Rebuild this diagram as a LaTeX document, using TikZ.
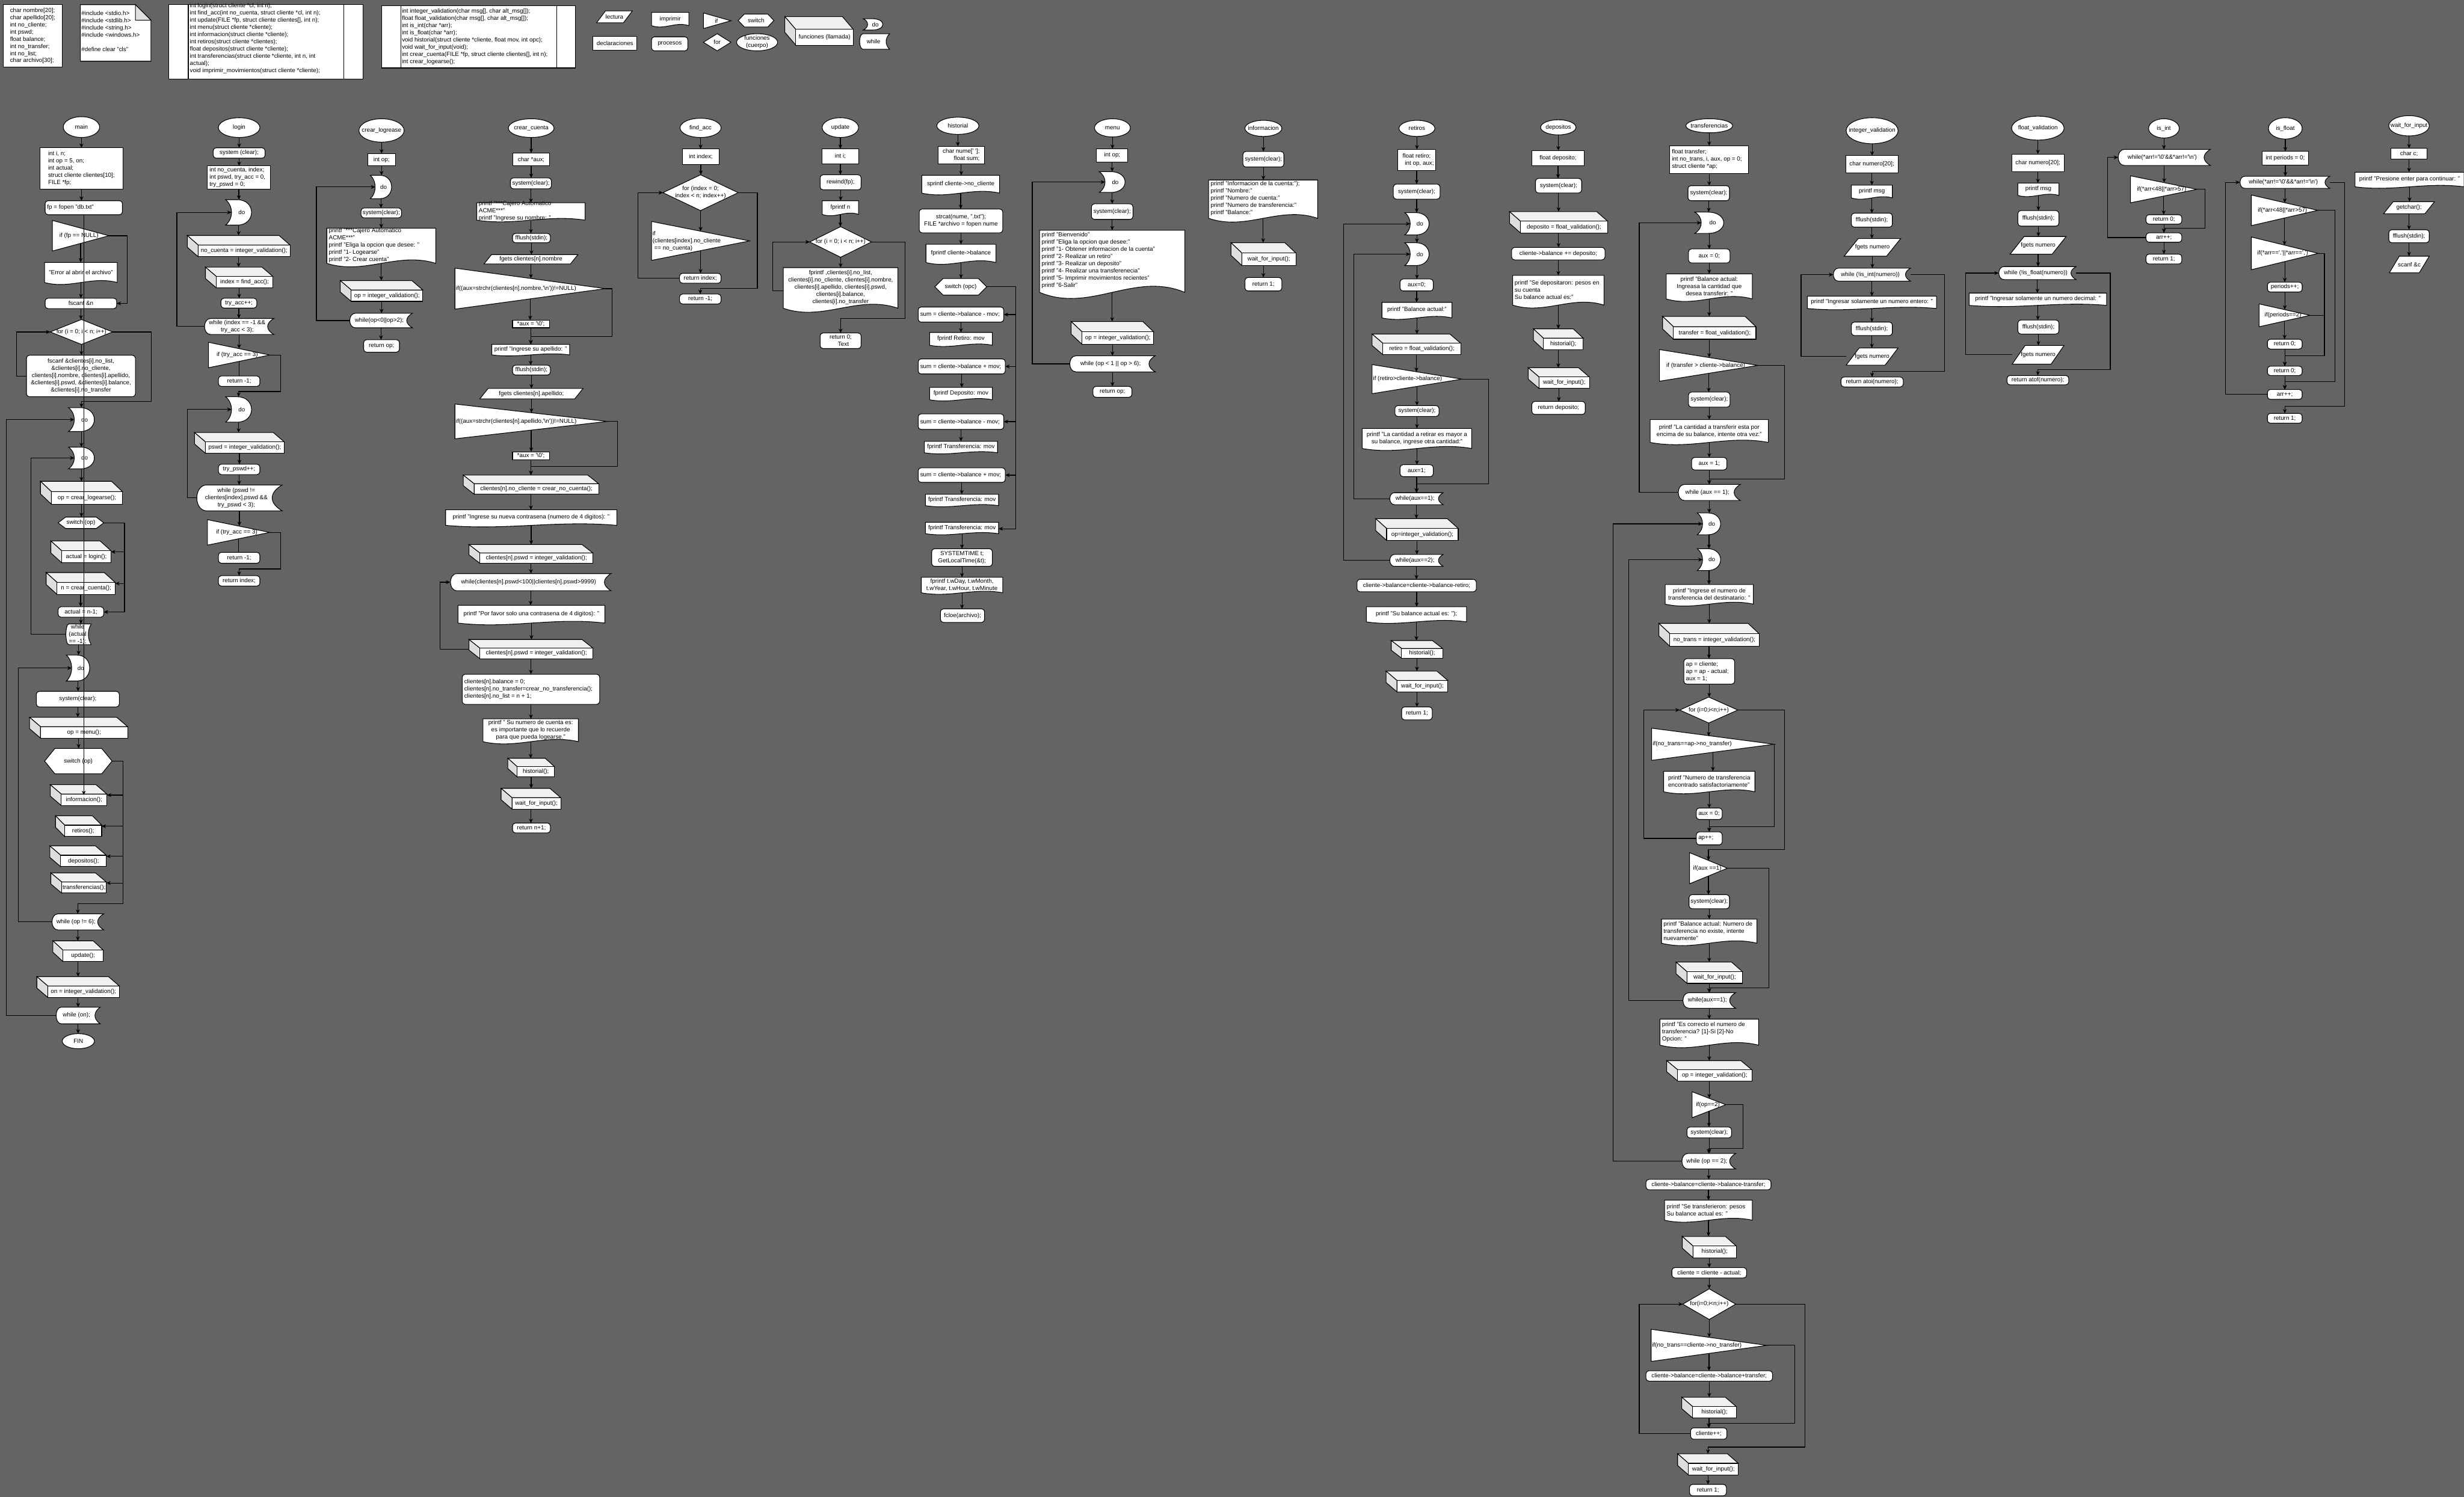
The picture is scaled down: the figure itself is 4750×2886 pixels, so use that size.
\documentclass[tikz,border=0pt]{standalone}
\usepackage{fontspec}
\setmainfont{Liberation Sans}
\usetikzlibrary{arrows.meta}
\definecolor{bgc}{HTML}{646464}
\newcommand\FCfs{\fontsize{3.25pt}{3.95pt}\selectfont}
\newcommand\FCq{\textquotesingle}
\newcommand\FCbs{\textbackslash}
\tikzset{
 shp/.style={draw=black,fill=white,line width=0.35pt},
 txt/.style={font=\FCfs,inner sep=0pt,outer sep=0pt,text=black},
 conn/.style={draw=black,line width=0.4pt,-{Stealth[length=2.4pt,width=2.1pt]}},
 lin/.style={draw=black,line width=0.4pt},
 box/.style={inner sep=0pt,outer sep=0pt,draw=none},
}
\newcommand\FCset[4]{\pgfmathsetmacro\FCl{#1}\pgfmathsetmacro\FCt{#2}\pgfmathsetmacro\FCr{#3}\pgfmathsetmacro\FCb{#4}%
 \pgfmathsetmacro\FCw{\FCr-\FCl}\pgfmathsetmacro\FCh{\FCb-\FCt}\pgfmathsetmacro\FCx{(\FCl+\FCr)/2}\pgfmathsetmacro\FCy{(\FCt+\FCb)/2}}
\newcommand\FCnd[1]{\node[box,minimum width={\FCw*0.01cm},minimum height={\FCh*0.01cm}] (#1) at (\FCx,\FCy) {};%
 \coordinate (#1n) at (\FCx,\FCt);\coordinate (#1s) at (\FCx,\FCb);}
\newcommand\FCtx[6]{%
 \if#1l\node[txt,anchor=west,align=left] (#2t) at ({#3},{#5}) {#6};%
 \else\if#1b\node[txt,align=left] (#2t) at ({#4},{#5}) {#6};%
 \else\node[txt,align=center] (#2t) at ({#4},{#5}) {#6};\fi\fi}
\newcommand\Dcl[7][c]{\FCset{#3}{#4}{#5}{#6}%
 \draw[shp] (\FCl,\FCt) rectangle (\FCr,\FCb);\FCnd{#2}\FCtx{#1}{#2}{\FCl+4}{\FCx}{\FCy}{#7}}
\newcommand\Prc[7][c]{\FCset{#3}{#4}{#5}{#6}%
 \draw[shp,rounded corners=1.6pt] (\FCl,\FCt) rectangle (\FCr,\FCb);\FCnd{#2}\FCtx{#1}{#2}{\FCl+4}{\FCx}{\FCy}{#7}}
\newcommand\Trm[7][c]{\FCset{#3}{#4}{#5}{#6}%
 \draw[shp] (\FCx,\FCy) ellipse [x radius={\FCw*0.005cm},y radius={\FCh*0.005cm}];\FCnd{#2}\FCtx{#1}{#2}{\FCl}{\FCx}{\FCy}{#7}}
\newcommand\Doc[7][c]{\FCset{#3}{#4}{#5}{#6}%
 \draw[shp] (\FCl,\FCt) -- (\FCr,\FCt) -- (\FCr,{\FCb-0.12*\FCh}) .. controls ({\FCr-0.35*\FCw},{\FCb-0.42*\FCh}) and ({\FCl+0.35*\FCw},{\FCb+0.18*\FCh}) .. (\FCl,{\FCb-0.12*\FCh}) -- cycle;%
 \FCnd{#2}\coordinate (#2s) at (\FCx,{\FCb-0.12*\FCh});\FCtx{#1}{#2}{\FCl+4}{\FCx}{\FCy-0.07*\FCh}{#7}}
\newcommand\Iff[7][c]{\FCset{#3}{#4}{#5}{#6}%
 \draw[shp] (\FCl,\FCt) -- (\FCr,\FCy) -- (\FCl,\FCb) -- cycle;%
 \FCnd{#2}\coordinate (#2n) at (\FCx,{\FCy-0.25*\FCh});\coordinate (#2s) at (\FCx,{\FCy+0.25*\FCh});%
 \FCtx{#1}{#2}{\FCl+2}{\FCl+0.47*\FCw}{\FCy}{#7}}
\newcommand\Swt[7][c]{\FCset{#3}{#4}{#5}{#6}\pgfmathsetmacro\FCd{0.13*\FCw+3}%
 \draw[shp] (\FCl,\FCy) -- ({\FCl+\FCd},\FCt) -- ({\FCr-\FCd},\FCt) -- (\FCr,\FCy) -- ({\FCr-\FCd},\FCb) -- ({\FCl+\FCd},\FCb) -- cycle;%
 \FCnd{#2}\FCtx{#1}{#2}{\FCl+\FCd}{\FCx}{\FCy}{#7}}
\newcommand\Frr[7][c]{\FCset{#3}{#4}{#5}{#6}%
 \draw[shp] (\FCl,\FCy) -- (\FCx,\FCt) -- (\FCr,\FCy) -- (\FCx,\FCb) -- cycle;%
 \FCnd{#2}\FCtx{#1}{#2}{\FCl+4}{\FCx}{\FCy}{#7}}
\newcommand\Doo[5]{\FCset{#2}{#3}{#4}{#5}%
 \draw[shp] (\FCl,\FCt) -- ({\FCl+0.45*\FCw},\FCt) .. controls ({\FCl+1.18*\FCw},\FCt) and ({\FCl+1.18*\FCw},\FCb) .. ({\FCl+0.45*\FCw},\FCb) -- (\FCl,\FCb) .. controls ({\FCl+0.3*\FCw},{\FCb-0.25*\FCh}) and ({\FCl+0.3*\FCw},{\FCt+0.25*\FCh}) .. (\FCl,\FCt) -- cycle;%
 \FCnd{#1}\coordinate (#1in) at ({\FCl+0.225*\FCw},\FCy);\FCtx{c}{#1}{0}{\FCl+0.62*\FCw}{\FCy}{do}}
\newcommand\Whl[7][c]{\FCset{#3}{#4}{#5}{#6}\pgfmathsetmacro\FCd{min(0.4*\FCh,0.12*\FCw)}%
 \draw[shp] ({\FCl+\FCd},\FCt) -- (\FCr,\FCt) .. controls ({\FCr-1.3*\FCd},{\FCt+0.3*\FCh}) and ({\FCr-1.3*\FCd},{\FCb-0.3*\FCh}) .. (\FCr,\FCb) -- ({\FCl+\FCd},\FCb) .. controls ({\FCl-0.3*\FCd},\FCb) and ({\FCl-0.3*\FCd},\FCt) .. ({\FCl+\FCd},\FCt) -- cycle;%
 \FCnd{#2}\FCtx{#1}{#2}{\FCl+\FCd}{\FCx-0.3*\FCd}{\FCy}{#7}}
\newcommand\Fcl[7][c]{\FCset{#3}{#4}{#5}{#6}\pgfmathsetmacro\FCdx{min(21,0.2*\FCw)}\pgfmathsetmacro\FCdy{0.45*\FCh}%
 \draw[shp,fill=black!6] (\FCl,\FCt) -- ({\FCr-\FCdx},\FCt) -- (\FCr,{\FCt+\FCdy}) -- ({\FCl+\FCdx},{\FCt+\FCdy}) -- cycle;%
 \draw[shp,fill=black!13] (\FCl,\FCt) -- ({\FCl+\FCdx},{\FCt+\FCdy}) -- ({\FCl+\FCdx},\FCb) -- (\FCl,{\FCb-\FCdy}) -- cycle;%
 \draw[shp] ({\FCl+\FCdx},{\FCt+\FCdy}) rectangle (\FCr,\FCb);%
 \FCnd{#2}\FCtx{#1}{#2}{\FCl+\FCdx+4}{(\FCl+\FCdx+\FCr)/2}{(\FCt+\FCdy+\FCb)/2}{#7}}
\newcommand\Lec[7][c]{\FCset{#3}{#4}{#5}{#6}\pgfmathsetmacro\FCd{min(0.8*\FCh,0.25*\FCw)}%
 \draw[shp] ({\FCl+\FCd},\FCt) -- (\FCr,\FCt) -- ({\FCr-\FCd},\FCb) -- (\FCl,\FCb) -- cycle;%
 \FCnd{#2}\FCtx{#1}{#2}{\FCl+\FCd}{\FCx}{\FCy}{#7}}
\newcommand\FCar[2]{\draw[conn] (#1s) -- (#1s |- #2n);}
\newcommand\FCln[2]{\draw[lin] (#1s) -- (#1s |- #2n);}
\begin{document}
\begin{tikzpicture}[x=0.01cm,y=-0.01cm]
\useasboundingbox (0,0) rectangle (4750,2886);
\fill[bgc] (0,0) rectangle (4750,2886);
%================ HEADER
\Dcl[b]{hs}{6}{9}{120}{129}{char nombre[20];\\char apellido[20];\\int no\_cliente;\\int pswd;\\float balance;\\int no\_transfer;\\int no\_list;\\char archivo[30];}
\draw[shp] (155,9) -- (261,9) -- (291,39) -- (291,118) -- (155,118) -- cycle;
\draw[shp,fill=black!12] (261,9) -- (261,39) -- (291,39) -- cycle;
\node[box,minimum width=1.36cm,minimum height=1.09cm] (hn) at (223,63.5) {};
\node[txt,anchor=west,align=left] (hnt) at (157,60) {\#include <stdio.h>\\\#include <stdlib.h>\\\#include <string.h>\\\#include <windows.h>\\[3.95pt]\#define clear "cls"};
\Dcl{hp1}{325}{9}{700}{152}{}
\draw[lin,line width=0.35pt] (363,9) -- (363,152) (663,9) -- (663,152);
\node[txt,anchor=north west,align=left] (hp1x) at (366,6) {int login(struct cliente *cl, int n);\\int find\_acc(int no\_cuenta, struct cliente *cl, int n);\\int update(FILE *fp, struct cliente clientes[], int n);\\int menu(struct cliente *cliente);\\int informacion(struct cliente *cliente);\\int retiros(struct cliente *clientes);\\float depositos(struct cliente *cliente);\\int transferencias(struct cliente *cliente, int n, int\\actual);\\void imprimir\_movimientos(struct cliente *cliente);};
\Dcl{hp2}{736}{11}{1109}{131}{}
\draw[lin,line width=0.35pt] (773,11) -- (773,131) (1073,11) -- (1073,131);
\node[txt,anchor=west,align=left] (hp2x) at (775,71) {int integer\_validation(char msg[], char alt\_msg[]);\\float float\_validation(char msg[], char alt\_msg[]);\\int is\_int(char *arr);\\int is\_float(char *arr);\\void historial(struct cliente *cliente, float mov, int opc);\\void wait\_for\_input(void);\\int crear\_cuenta(FILE *fp, struct cliente clientes[], int n);\\int crear\_logearse();};
% legend
\Lec{kl}{1150}{21}{1219}{44}{lectura}
\Doc{kp}{1256}{24}{1328}{53}{imprimir}
\Iff{ki}{1356}{25}{1409}{55}{if}
\Swt{ks}{1423}{27}{1492}{52}{switch}
\Fcl{kf}{1513}{32}{1645}{87}{funciones (llamada)}
\Doo{kd}{1664}{36}{1702}{58}
\Dcl{kdc}{1143}{70}{1228}{97}{declaraciones}
\Prc{kpr}{1256}{71}{1326}{98}{procesos}
\Frr{kfo}{1356}{65}{1409}{98}{for}
\Trm{kfc}{1420}{65}{1499}{98}{funciones\\(cuerpo)}
\Whl{kw}{1657}{65}{1715}{95}{while}
%================ MAIN
\Trm{mT}{122}{225}{192}{265}{main}
\Dcl[b]{mD}{77}{285}{237}{365}{int i, n;\\int op = 5, on;\\int actual;\\struct cliente clientes[10];\\FILE *fp;}
\Prc[l]{mF}{87}{387}{236}{414}{fp = fopen "db.txt"}
\Iff{mI}{101}{425}{210}{484}{if (fp == NULL)}
\Doc{mE}{86}{506}{226}{550}{"Error al abrir el archivo"}
\Prc{mS}{87}{575}{225}{595}{fscanf \&n}
\Frr{mFor}{97}{616}{217}{664}{for (i = 0; i < n; i++)}
\Prc{mC}{51}{685}{261}{765}{fscanf \&clientes[i].no\_list,\\\&clientes[i].no\_cliente,\\clientes[i].nombre, clientes[i].apellido,\\\&clientes[i].pswd, \&clientes[i].balance,\\\&clientes[i].no\_transfer}
\Doo{mDo1}{132}{786}{182}{832}
\Doo{mDo2}{132}{862}{182}{904}
\Fcl{mL}{78}{928}{236}{972}{op = crear\_logearse();}
\Swt{mSw1}{112}{997}{200}{1019}{switch (op)}
\Fcl{mLg}{98}{1043}{214}{1085}{actual = login();}
\Fcl{mCc}{89}{1104}{222}{1146}{n = crear\_cuenta();}
\Prc{mAc}{112}{1170}{200}{1190}{actual = n-1;}
\Whl{mW1}{127}{1203}{176}{1243}{while\\(actual\\== -1);}
\Doo{mDo3}{128}{1263}{173}{1313}
\Prc{mCl}{70}{1333}{230}{1363}{system(clear);}
\Fcl{mMn}{57}{1383}{246}{1423}{op = menu();}
\Swt{mSw2}{86}{1443}{216}{1492}{switch (op)}
\Fcl{mIn}{97}{1513}{206}{1553}{informacion();}
\Fcl{mRe}{107}{1573}{196}{1613}{retiros();}
\Fcl{mDe}{96}{1631}{205}{1671}{depositos();}
\Fcl{mTr}{98}{1683}{205}{1722}{transferencias();}
\Whl{mW2}{100}{1762}{200}{1793}{while (op != 6);}
\Fcl{mUp}{102}{1814}{199}{1854}{update();}
\Fcl{mOn}{71}{1883}{230}{1923}{on = integer\_validation();}
\Whl{mW3}{108}{1942}{193}{1974}{while (on);}
\Trm{mFin}{120}{1993}{182}{2022}{FIN}
\FCar{mT}{mD}\FCar{mD}{mF}\FCar{mF}{mI}\FCar{mI}{mE}\FCar{mE}{mS}\FCar{mS}{mFor}\FCar{mFor}{mC}
\draw[conn] (mI.east) -| (245,0 |- mS.east) -- (mS.east);
\draw[conn] (mC.west) -| (32,0 |- mFor.west) -- (mFor.west);
\draw[conn] (mFor.east) -| (292,774) -| (mDo1n);
\FCar{mDo1}{mDo2}\FCar{mDo2}{mL}\FCar{mL}{mSw1}\FCar{mCc}{mAc}\FCar{mAc}{mW1}
\draw[conn] (mSw1.east) -| (240,0 |- mLg.east) -- (mLg.east);
\draw[conn] (mSw1.east) -| (240,0 |- mCc.east) -- (mCc.east);
\draw[conn] (mSw1.east) -| (240,0 |- mAc.east) -- (mAc.east);
\draw[conn] (mW1.west) -| (60,0 |- mDo2in) -- (mDo2in);
\FCar{mW1}{mDo3}\FCar{mDo3}{mCl}\FCar{mCl}{mMn}\FCar{mMn}{mSw2}
\draw[conn] (mSw2.east) -| (237,0 |- mIn.east) -- (mIn.east);
\draw[conn] (mSw2.east) -| (237,0 |- mRe.east) -- (mRe.east);
\draw[conn] (mSw2.east) -| (237,0 |- mDe.east) -- (mDe.east);
\draw[conn] (mSw2.east) -| (237,0 |- mTr.east) -- (mTr.east);
\draw[conn] (mSw2.east) -| (237,1742) -| (mW2n);
\draw[conn] (mW2.west) -| (35,0 |- mDo3in) -- (mDo3in);
\FCar{mW2}{mUp}\FCar{mUp}{mOn}\FCar{mOn}{mW3}\FCar{mW3}{mFin}
\draw[conn] (mW3.west) -| (12,0 |- mDo1in) -- (mDo1in);
%================ LOGIN
\Trm{lgT}{421}{227}{501}{265}{login}
\Prc{lg1}{411}{285}{511}{305}{system (clear);}
\Dcl[l]{lg2}{400}{320}{521}{365}{int no\_cuenta, index;\\int pswd, try\_acc = 0,\\try\_pswd = 0;}
\Doo{lgd1}{435}{385}{485}{434}
\Fcl{lg3}{361}{454}{559}{495}{no\_cuenta = integer\_validation();}
\Fcl{lg4}{396}{515}{526}{555}{index = find\_acc();}
\Prc{lg5}{426}{575}{495}{594}{try\_acc++;}
\Whl{lgw1}{394}{614}{528}{645}{while (index == -1 \&\&\\try\_acc < 3);}
\Iff{lgi1}{402}{660}{520}{709}{if (try\_acc == 3)}
\Prc{lgr1}{421}{725}{501}{745}{return -1;}
\Doo{lgd2}{435}{765}{485}{814}
\Fcl{lg6}{375}{834}{548}{874}{pswd = integer\_validation();}
\Prc{lg7}{421}{895}{501}{915}{try\_pswd++;}
\Whl{lgw2}{379}{935}{544}{985}{while (pswd !=\\clientes[index].pswd \&\&\\try\_pswd < 3);}
\Iff{lgi2}{400}{1002}{520}{1051}{if (try\_acc == 3)}
\Prc{lgr2}{421}{1065}{501}{1086}{return -1;}
\Prc{lgr3}{421}{1110}{501}{1130}{return index;}
\FCar{lgT}{lg1}\FCar{lg1}{lg2}\FCar{lg2}{lgd1}\FCar{lgd1}{lg3}\FCar{lg3}{lg4}\FCar{lg4}{lg5}\FCar{lg5}{lgw1}\FCar{lgw1}{lgi1}\FCln{lgi1}{lgr1}
\draw[conn] (lgw1.west) -| (341,0 |- lgd1in) -- (lgd1in);
\draw[conn] (lgi1.east) -| (541,755) -| (lgd2n);
\FCar{lgd2}{lg6}\FCar{lg6}{lg7}\FCar{lg7}{lgw2}\FCar{lgw2}{lgi2}\FCln{lgi2}{lgr2}
\draw[conn] (lgw2.west) -| (361,0 |- lgd2in) -- (lgd2in);
\draw[conn] (lgi2.east) -| (541,1097) -| (lgr3n);
%================ CREAR_LOGREASE
\Trm{clT}{692}{229}{779}{274}{crear\_logrease}
\Dcl{cl1}{709}{296}{762}{320}{int op;}
\Doo{cld}{714}{338}{755}{383}
\Prc{cl2}{696}{401}{774}{420}{system(clear);}
\Doc[l]{cl3}{630}{440}{840}{517}{printf "***Cajero Automatico\\ACME***"\\printf "Eliga la opcion que desee: "\\printf "1- Logearse"\\printf "2- Crear cuenta"}
\Fcl{cl4}{656}{541}{815}{581}{op = integer\_validation();}
\Whl{clw}{674}{604}{795}{632}{while(op<0||op>2);}
\Prc{clr}{701}{655}{770}{679}{return op;}
\FCar{clT}{cl1}\FCar{cl1}{cld}\FCar{cld}{cl2}\FCar{cl2}{cl3}\FCar{cl3}{cl4}\FCar{cl4}{clw}\FCar{clw}{clr}
\draw[conn] (clw.west) -| (610,0 |- cldin) -- (cldin);
%================ CREAR_CUENTA
\Trm{ccT}{980}{229}{1068}{265}{crear\_cuenta}
\Dcl{cc1}{989}{295}{1059}{320}{char *aux;}
\Prc{cc2}{984}{343}{1063}{364}{system(clear);}
\Doc[l]{cc3}{919}{391}{1128}{429}{printf "***Cajero Automatico\\ACME***"\\printf "Ingrese su nombre: "}
\Prc{cc4}{988}{450}{1061}{468}{fflush(stdin);}
\Lec{cc5}{933}{491}{1114}{509}{fgets clientes[n].nombre}
\Iff[l]{cc6}{877}{517}{1167}{596}{if((aux=strchr(clientes[n].nombre,\FCq\FCbs n\FCq))!=NULL)}
\Dcl{cc7}{988}{617}{1059}{632}{*aux = \FCq\FCbs 0\FCq;}
\Doc{cc8}{948}{664}{1098}{687}{printf "Ingrese su apellido: "}
\Prc{cc9}{988}{704}{1061}{723}{fflush(stdin);}
\Lec{cc10}{925}{749}{1124}{769}{fgets clientes[n].apellido;}
\Iff[l]{cc11}{877}{779}{1171}{846}{if((aux=strchr(clientes[n].apellido,\FCq\FCbs n\FCq))!=NULL)}
\Dcl{cc12}{988}{871}{1059}{886}{*aux = \FCq\FCbs 0\FCq;}
\Fcl{cc13}{893}{916}{1154}{953}{clientes[n].no\_cliente = crear\_no\_cuenta();}
\Doc{cc14}{859}{983}{1189}{1017}{printf "Ingrese su nueva contrasena (numero de 4 digitos): "}
\Fcl{cc15}{904}{1050}{1143}{1086}{clientes[n].pswd = integer\_validation();}
\Whl{cc16}{868}{1106}{1178}{1139}{while(clientes[n].pswd<100||clientes[n].pswd>9999)}
\Doc{cc17}{883}{1167}{1166}{1206}{printf "Por favor solo una contrasena de 4 digitos): "}
\Fcl{cc18}{904}{1233}{1143}{1270}{clientes[n].pswd = integer\_validation();}
\Prc[l]{cc19}{891}{1300}{1156}{1358}{clientes[n].balance = 0;\\clientes[n].no\_transfer=crear\_no\_transferencia();\\clientes[n].no\_list = n + 1;}
\Doc{cc20}{931}{1386}{1115}{1436}{printf " Su numero de cuenta es:\\es importante que lo recuerde\\para que pueda logearse."}
\Fcl{cc21}{979}{1462}{1069}{1498}{historial();}
\Fcl{cc22}{966}{1520}{1081}{1560}{wait\_for\_input();}
\Prc{cc23}{988}{1587}{1061}{1606}{return n+1;}
\FCar{ccT}{cc1}\FCar{cc1}{cc2}\FCar{cc2}{cc3}\FCar{cc3}{cc4}\FCar{cc4}{cc5}\FCar{cc5}{cc6}\FCar{cc6}{cc7}\FCar{cc7}{cc8}
\FCar{cc8}{cc9}\FCar{cc9}{cc10}\FCar{cc10}{cc11}\FCar{cc11}{cc12}\FCar{cc12}{cc13}\FCar{cc13}{cc14}\FCar{cc14}{cc15}
\FCar{cc15}{cc16}\FCar{cc16}{cc17}\FCar{cc17}{cc18}\FCar{cc18}{cc19}\FCar{cc19}{cc20}\FCar{cc20}{cc21}\FCar{cc21}{cc22}\FCar{cc22}{cc23}
\draw[conn] (cc6.east) -| (1180,649) -| (cc8n);
\draw[conn] (cc11.east) -| (1190,899) -| (cc13n);
\draw[conn] (cc18.west) -| (848,0 |- cc16.west) -- (cc16.west);
%================ FIND_ACC
\Trm{faT}{1311}{228}{1390}{265}{find\_acc}
\Dcl{fa1}{1316}{287}{1386}{317}{int index;}
\Frr{fa2}{1278}{337}{1423}{406}{for (index = 0;\\index < n; index++)}
\Iff[l]{fa3}{1256}{427}{1445}{502}{if\\(clientes[index].no\_cliente\\\ == no\_cuenta)}
\Prc{fa4}{1310}{527}{1390}{546}{return index;}
\Prc{fa5}{1310}{567}{1390}{586}{return -1;}
\FCar{faT}{fa1}\FCar{fa1}{fa2}\FCar{fa2}{fa3}\FCar{fa3}{fa4}
\draw[conn] (fa4.west) -| (1230,0 |- fa2.west) -- (fa2.west);
\draw[conn] (fa2.east) -| (1460,556) -| (fa5n);
%================ UPDATE
\Trm{upT}{1585}{227}{1655}{265}{update}
\Dcl{up1}{1585}{287}{1655}{316}{int i;}
\Prc{up2}{1581}{337}{1660}{366}{rewind(fp);}
\Doc{up3}{1585}{387}{1655}{417}{fprintf n}
\Frr{up4}{1561}{437}{1680}{496}{for (i = 0; i < n; i++)}
\Doc{up5}{1510}{516}{1731}{605}{fprintf ,clientes[i].no\_list,\\clientes[i].no\_cliente, clientes[i].nombre,\\clientes[i].apellido, clientes[i].pswd,\\clientes[i].balance,\\clientes[i].no\_transfer}
\Prc{up6}{1581}{642}{1660}{672}{return 0;\\\hspace*{3pt}Text}
\FCar{upT}{up1}\FCar{up1}{up2}\FCar{up2}{up3}\FCar{up3}{up4}\FCar{up4}{up5}
\draw[conn] (up5.west) -| (1490,0 |- up4.west) -- (up4.west);
\draw[conn] (up4.east) -| (1745,614) -| (up6n);
%================ HISTORIAL
\Trm{hiT}{1806}{226}{1887}{259}{historial}
\Dcl{hi1}{1808}{282}{1898}{316}{char nume[\FCq\ \FCq];\\\hspace*{6pt}float sum;}
\Doc{hi2}{1777}{338}{1927}{377}{sprintf cliente->no\_cliente}
\Prc{hi3}{1772}{403}{1933}{449}{strcat(nume, ".txt");\\FILE *archivo = fopen nume}
\Doc{hi4}{1785}{471}{1920}{511}{fprintf cliente->balance}
\Swt{hi5}{1802}{537}{1902}{569}{switch (opc)}
\Prc[l]{hi6}{1770}{592}{1935}{621}{sum = cliente->balance - mov;}
\Doc{hi7}{1792}{641}{1913}{669}{fprintf Retiro: mov}
\Prc[l]{hi8}{1770}{692}{1938}{721}{sum = cliente->balance + mov;}
\Doc{hi9}{1792}{747}{1913}{774}{fprintf Deposito: mov}
\Prc[l]{hi10}{1770}{798}{1935}{828}{sum = cliente->balance - mov;}
\Doc{hi11}{1782}{851}{1923}{876}{fprintf Transferencia: mov}
\Prc[l]{hi12}{1770}{902}{1938}{930}{sum = cliente->balance + mov;}
\Doc{hi13}{1784}{953}{1925}{978}{fprintf Transferencia: mov}
\Doc{hi14}{1784}{1007}{1925}{1032}{fprintf Transferencia: mov}
\Prc{hi15}{1796}{1058}{1913}{1092}{SYSTEMTIME t;\\GetLocalTime(\&t);}
\Doc{hi16}{1776}{1113}{1933}{1147}{fprintf t.wDay, t.wMonth,\\t.wYear, t.wHour, t.wMinute}
\Prc{hi17}{1813}{1174}{1898}{1200}{fcloe(archivo);}
\FCar{hiT}{hi1}\FCar{hi1}{hi2}\FCar{hi2}{hi3}\FCar{hi3}{hi4}\FCar{hi4}{hi5}
\FCar{hi6}{hi7}\FCar{hi8}{hi9}\FCar{hi10}{hi11}\FCar{hi12}{hi13}\FCar{hi14}{hi15}\FCar{hi15}{hi16}\FCar{hi16}{hi17}
\draw[conn] (hi5.east) -| (1958,0 |- hi6.east) -- (hi6.east);
\draw[conn] (hi5.east) -| (1958,0 |- hi8.east) -- (hi8.east);
\draw[conn] (hi5.east) -| (1958,0 |- hi10.east) -- (hi10.east);
\draw[conn] (hi5.east) -| (1958,0 |- hi12.east) -- (hi12.east);
\draw[conn] (hi5.east) -| (1958,0 |- hi14.east) -- (hi14.east);
%================ MENU
\Trm{meT}{2110}{229}{2179}{264}{menu}
\Dcl{me1}{2114}{287}{2174}{312}{int op;}
\Doo{med}{2119}{331}{2169}{371}
\Prc{me2}{2104}{393}{2184}{423}{system(clear);}
\Doc[l]{me3}{2004}{444}{2284}{580}{printf "Bienvenido"\\printf "Eliga la opcion que desee:"\\printf "1- Obtener informacion de la cuenta"\\printf "2- Realizar un retiro"\\printf "3- Realizar un deposito"\\printf "4- Realizar una transferenecia"\\printf "5- Imprimir movimientos recientes"\\printf "6-Salir"}
\Fcl{me4}{2065}{620}{2224}{664}{op = integer\_validation();}
\Whl{mew}{2062}{686}{2227}{717}{while (op < 1 || op > 6);}
\Prc{me5}{2107}{745}{2182}{766}{return op;}
\FCar{meT}{me1}\FCar{me1}{med}\FCar{med}{me2}\FCar{me2}{me3}\FCar{me3}{me4}\FCar{me4}{mew}\FCar{mew}{me5}
\draw[conn] (mew.west) -| (1990,0 |- medin) -- (medin);
%================ INFORMACION
\Trm{inT}{2400}{232}{2471}{263}{informacion}
\Prc{in1}{2396}{292}{2475}{322}{system(clear);}
\Doc[l]{in2}{2330}{347}{2540}{431}{printf "Informacion de la cuenta:");\\printf "Nombre:"\\printf "Numero de cuenta:"\\printf "Numero de transferencia:"\\printf "Balance:"}
\Fcl{in3}{2373}{468}{2498}{512}{wait\_for\_input();}
\Prc{in4}{2400}{535}{2471}{561}{return 1;}
\FCar{inT}{in1}\FCar{in1}{in2}\FCar{in2}{in3}\FCar{in3}{in4}
%================ RETIROS
\Trm{reT}{2697}{232}{2766}{263}{retiros}
\Dcl{re1}{2695}{288}{2767}{329}{float retiro;\\\hspace*{3pt}int op, aux;}
\Prc{re2}{2686}{355}{2776}{384}{system(clear);}
\Doo{red1}{2708}{410}{2755}{453}
\Doo{red2}{2708}{468}{2755}{512}
\Prc{re3}{2699}{538}{2763}{561}{aux=0;}
\Doc{re4}{2664}{583}{2799}{617}{printf "Balance actual:"}
\Fcl{re5}{2645}{644}{2816}{684}{retiro = float\_validation();}
\Iff[l]{re6}{2645}{703}{2818}{759}{if (retiro>cliente->balance)}
\Prc{re7}{2689}{782}{2774}{803}{system(clear);}
\Doc{re8}{2626}{826}{2837}{870}{printf "La cantidad a retirar es mayor a\\su balance, ingrese otra cantidad:"}
\Prc{re9}{2699}{896}{2763}{919}{aux=1;}
\Whl{rew1}{2679}{950}{2782}{973}{while(aux==1);}
\Fcl{re10}{2652}{1000}{2811}{1042}{op=integer\_validation();}
\Whl{rew2}{2679}{1069}{2782}{1092}{while(aux==2);}
\Prc{re11}{2616}{1117}{2846}{1141}{cliente->balance=cliente->balance-retiro;}
\Doc{re12}{2634}{1170}{2827}{1203}{printf "Su balance actual es: ");}
\Fcl{re13}{2682}{1235}{2781}{1269}{historial();}
\Fcl{re14}{2672}{1294}{2791}{1334}{wait\_for\_input();}
\Prc{re15}{2702}{1363}{2761}{1388}{return 1;}
\FCar{reT}{re1}\FCar{re1}{re2}\FCar{re2}{red1}\FCar{red1}{red2}\FCar{red2}{re3}\FCar{re3}{re4}\FCar{re4}{re5}\FCar{re5}{re6}\FCar{re6}{re7}
\FCar{re7}{re8}\FCar{re8}{re9}\FCar{re9}{rew1}\FCar{rew1}{re10}\FCar{re10}{rew2}\FCar{rew2}{re11}\FCar{re11}{re12}\FCar{re12}{re13}\FCar{re13}{re14}\FCar{re14}{re15}
\draw[conn] (re6.east) -| (2870,933) -| (rew1n);
\draw[conn] (rew1.west) -| (2610,0 |- red2in) -- (red2in);
\draw[conn] (rew2.west) -| (2590,0 |- red1in) -- (red1in);
%================ DEPOSITOS
\Trm{deT}{2970}{231}{3038}{260}{depositos}
\Dcl{de1}{2953}{290}{3054}{319}{float deposito;}
\Prc{de2}{2960}{344}{3049}{372}{system(clear);}
\Fcl{de3}{2910}{408}{3099}{449}{deposito = float\_validation();}
\Prc{de4}{2914}{477}{3094}{501}{cliente->balance += deposito;}
\Doc[l]{de5}{2916}{531}{3092}{596}{printf "Se depositaron: pesos en\\su cuenta\\Su balance actual es:"}
\Fcl{de6}{2956}{634}{3052}{674}{historial();}
\Fcl{de7}{2946}{709}{3064}{749}{wait\_for\_input();}
\Prc{de8}{2953}{774}{3056}{799}{return deposito;}
\FCar{deT}{de1}\FCar{de1}{de2}\FCar{de2}{de3}\FCar{de3}{de4}\FCar{de4}{de5}\FCar{de5}{de6}\FCar{de6}{de7}\FCar{de7}{de8}
%================ TRANSFERENCIAS
\Trm{trT}{3250}{229}{3340}{256}{transferencias}
\Dcl[l]{tr1}{3219}{281}{3371}{334}{float transfer;\\int no\_trans, i, aux, op = 0;\\struct cliente *ap;}
\Prc{tr2}{3254}{358}{3334}{387}{system(clear);}
\Doo{trd1}{3267}{409}{3323}{450}
\Prc{tr3}{3255}{480}{3335}{507}{aux = 0;}
\Doc{tr4}{3212}{528}{3378}{583}{printf "Balance actual:\\Ingreasa la cantidad que\\desea transferir: "}
\Fcl{tr5}{3205}{610}{3385}{654}{transfer = float\_validation();}
\Iff{tr6}{3199}{674}{3389}{735}{if (transfer > cliente->balance)}
\Prc{tr7}{3255}{756}{3335}{785}{system(clear);}
\Doc{tr8}{3181}{809}{3409}{859}{printf "La cantidad a transferir esta por\\encima de su balance, intente otra vez:"}
\Prc{tr9}{3261}{882}{3329}{906}{aux = 1;}
\Whl{trw1}{3235}{934}{3355}{965}{while (aux == 1);}
\Doo{trd2}{3272}{989}{3317}{1031}
\Doo{trd3}{3272}{1058}{3317}{1100}
\Doc{tr10}{3210}{1127}{3380}{1170}{printf "Ingrese el numero de\\transferencia del destinatario: "}
\Fcl{tr11}{3198}{1202}{3391}{1246}{no\_trans = integer\_validation();}
\Prc[l]{tr12}{3246}{1270}{3344}{1319}{ap = cliente;\\ap = ap - actual;\\aux = 1;}
\Frr{trf1}{3238}{1344}{3350}{1394}{for (i=0;i<n;i++)}
\Iff[l]{tr13}{3184}{1404}{3420}{1466}{if(no\_trans==ap->no\_transfer)}
\Doc[b]{tr14}{3207}{1487}{3383}{1532}{printf "Numero de transferencia\\encontrado satisfactoriamente"}
\Prc[l]{tr15}{3270}{1558}{3320}{1580}{aux = 0;}
\Prc[l]{tr16}{3270}{1604}{3320}{1629}{ap++;}
\Iff{tr17}{3257}{1644}{3330}{1704}{if(aux ==1)}
\Prc{tr18}{3256}{1725}{3334}{1752}{system(clear);}
\Doc[l]{tr19}{3203}{1772}{3387}{1825}{printf "Balance actual: Numero de\\transferencia no existe, intente\\nuevamente"}
\Fcl{tr20}{3231}{1855}{3359}{1896}{wait\_for\_input();}
\Whl{trw2}{3244}{1914}{3346}{1944}{while(aux==1);}
\Doc[l]{tr21}{3200}{1965}{3390}{2022}{printf "Es correcto el numero de\\transferencia? [1]-Si [2]-No\\Opcion: "}
\Fcl{tr22}{3213}{2045}{3377}{2084}{op = integer\_validation();}
\Iff{tr23}{3262}{2105}{3327}{2155}{if(op==2)}
\Prc{tr24}{3252}{2173}{3338}{2194}{system(clear);}
\Whl{trw3}{3242}{2224}{3346}{2254}{while (op == 2);}
\Prc{tr25}{3173}{2274}{3414}{2294}{cliente->balance=cliente->balance-transfer;}
\Doc[l]{tr26}{3209}{2314}{3378}{2358}{printf "Se transferieron: pesos\\Su balance actual es: "}
\Fcl{tr27}{3243}{2384}{3347}{2425}{historial();}
\Prc{tr28}{3223}{2444}{3367}{2464}{cliente = cliente - actual;}
\Frr{trf2}{3244}{2485}{3346}{2544}{for(i=0;i<n;i++)}
\Iff[l]{tr29}{3183}{2563}{3406}{2625}{if(no\_trans==cliente->no\_transfer)}
\Prc{tr30}{3173}{2643}{3417}{2663}{cliente->balance=cliente->balance+transfer;}
\Fcl{tr31}{3242}{2694}{3347}{2734}{historial();}
\Prc{tr32}{3259}{2753}{3329}{2775}{cliente++;}
\Fcl{tr33}{3234}{2803}{3351}{2844}{wait\_for\_input();}
\Prc{tr34}{3257}{2862}{3328}{2884}{return 1;}
\FCar{trT}{tr1}\FCar{tr1}{tr2}\FCar{tr2}{trd1}\FCar{trd1}{tr3}\FCar{tr3}{tr4}\FCar{tr4}{tr5}\FCar{tr5}{tr6}\FCar{tr6}{tr7}\FCar{tr7}{tr8}\FCar{tr8}{tr9}\FCar{tr9}{trw1}
\FCar{trw1}{trd2}\FCar{trd2}{trd3}\FCar{trd3}{tr10}\FCar{tr10}{tr11}\FCar{tr11}{tr12}\FCar{tr12}{trf1}\FCar{trf1}{tr13}\FCar{tr13}{tr14}\FCar{tr14}{tr15}\FCar{tr15}{tr16}
\FCar{tr17}{tr18}\FCar{tr18}{tr19}\FCar{tr19}{tr20}\FCar{tr20}{trw2}\FCar{trw2}{tr21}\FCar{tr21}{tr22}\FCar{tr22}{tr23}\FCar{tr23}{tr24}\FCar{tr24}{trw3}
\FCar{trw3}{tr25}\FCar{tr25}{tr26}\FCar{tr26}{tr27}\FCar{tr27}{tr28}\FCar{tr28}{trf2}\FCar{trf2}{tr29}\FCar{tr29}{tr30}\FCar{tr30}{tr31}\FCar{tr31}{tr32}\FCar{tr33}{tr34}
\draw[conn] (tr6.east) -| (3440,924) -| (trw1n);
\draw[conn] (trw1.west) -| (3160,0 |- trd1in) -- (trd1in);
\draw[conn] (trw3.west) -| (3110,0 |- trd2in) -- (trd2in);
\draw[conn] (trw2.west) -| (3140,0 |- trd3in) -- (trd3in);
\draw[conn] (tr16.west) -| (3169,0 |- trf1.west) -- (trf1.west);
\draw[conn] (tr13.east) -| (3420,1594) -| (tr16n);
\draw[conn] (trf1.east) -| (3440,1638) -| (tr17n);
\draw[conn] (tr17.east) -| (3410,1905) -| (trw2n);
\draw[conn] (tr23.east) -| (3360,2214) -| (trw3n);
\draw[conn] (tr32.west) -| (3160,0 |- trf2.west) -- (trf2.west);
\draw[conn] (tr29.east) -| (3460,2744) -| (tr32n);
\draw[conn] (trf2.east) -| (3480,2790) -| (tr33n);
%================ INTEGER_VALIDATION
\Trm{ivT}{3559}{227}{3659}{277}{integer\_validation}
\Dcl{iv1}{3558}{300}{3659}{333}{char numero[20];}
\Doc{iv2}{3569}{357}{3648}{385}{printf msg}
\Prc{iv3}{3569}{411}{3648}{438}{fflush(stdin);}
\Lec{iv4}{3555}{460}{3664}{494}{fgets numero}
\Whl{ivw}{3534}{517}{3683}{542}{while (!is\_int(numero))}
\Doc{iv5}{3484}{571}{3733}{598}{printf "Ingresar solamente un numero entero: "}
\Prc{iv6}{3569}{621}{3648}{647}{fflush(stdin);}
\Lec{iv7}{3559}{671}{3659}{704}{fgets numero}
\Prc{iv8}{3549}{727}{3669}{746}{return atoi(numero);}
\FCar{ivT}{iv1}\FCar{iv1}{iv2}\FCar{iv2}{iv3}\FCar{iv3}{iv4}\FCar{iv4}{ivw}\FCar{ivw}{iv5}\FCar{iv5}{iv6}\FCar{iv6}{iv7}
\draw[conn] (iv7.west) -| (3472,0 |- ivw.west) -- (ivw.west);
\draw[conn] (ivw.east) -| (3749,716) -| (iv8n);
%================ FLOAT_VALIDATION
\Trm{fvT}{3878}{224}{3979}{270}{float\_validation}
\Dcl{fv1}{3878}{297}{3979}{331}{char numero[20];}
\Doc{fv2}{3890}{353}{3969}{380}{printf msg}
\Prc{fv3}{3890}{406}{3969}{436}{fflush(stdin);}
\Lec{fv4}{3875}{456}{3983}{490}{fgets numero}
\Whl{fvw}{3853}{514}{4002}{539}{while (!is\_float(numero))}
\Doc{fv5}{3796}{565}{4061}{592}{printf "Ingresar solamente un numero decimal: "}
\Prc{fv6}{3890}{617}{3969}{644}{fflush(stdin);}
\Lec{fv7}{3879}{666}{3979}{702}{fgets numero}
\Prc{fv8}{3869}{724}{3988}{742}{return atof(numero);}
\FCar{fvT}{fv1}\FCar{fv1}{fv2}\FCar{fv2}{fv3}\FCar{fv3}{fv4}\FCar{fv4}{fvw}\FCar{fvw}{fv5}\FCar{fv5}{fv6}\FCar{fv6}{fv7}
\draw[conn] (fv7.west) -| (3789,0 |- fvw.west) -- (fvw.west);
\draw[conn] (fvw.east) -| (4068,713) -| (fv8n);
%================ IS_INT
\Trm{iiT}{4142}{229}{4201}{266}{is\_int}
\Whl{iiw}{4083}{288}{4261}{319}{while(*arr!=\FCq\FCbs 0\FCq\&\&*arr!=\FCq\FCbs n\FCq)}
\Iff{ii1}{4107}{339}{4235}{391}{if(*arr<48||*arr>57)}
\Prc{ii2}{4137}{414}{4206}{432}{return 0;}
\Prc{ii3}{4137}{449}{4206}{467}{arr++;}
\Prc{ii4}{4137}{490}{4206}{509}{return 1;}
\FCar{iiT}{iiw}\FCar{iiw}{ii1}\FCar{ii1}{ii2}\FCar{ii2}{ii3}\FCar{ii3}{ii4}
\draw[conn] (ii1.east) -| (4251,440) -| (ii3n);
\draw[conn] (ii3.west) -| (4063,0 |- iiw.west) -- (iiw.west);
%================ IS_FLOAT
\Trm{flT}{4373}{227}{4438}{268}{is\_float}
\Dcl{fl1}{4361}{292}{4450}{318}{int periods = 0;}
\Whl{flw}{4318}{340}{4491}{363}{while(*arr!=\FCq\FCbs 0\FCq\&\&*arr!=\FCq\FCbs n\FCq)}
\Iff{fl2}{4340}{376}{4468}{435}{if(*arr<48||*arr>57)}
\Iff{fl3}{4340}{457}{4469}{520}{if(*arr==\FCq.\FCq||*arr==\FCq,\FCq)}
\Prc{fl4}{4371}{544}{4438}{563}{periods++;}
\Iff{fl5}{4355}{586}{4453}{630}{if(periods==2)}
\Prc{fl6}{4371}{654}{4438}{673}{return 0;}
\Prc{fl7}{4371}{706}{4438}{724}{return 0;}
\Prc{fl8}{4371}{751}{4438}{770}{arr++;}
\Prc{fl9}{4371}{797}{4438}{816}{return 1;}
\FCar{flT}{fl1}\FCar{fl1}{flw}\FCar{flw}{fl2}\FCar{fl2}{fl3}\FCar{fl3}{fl4}\FCar{fl4}{fl5}\FCar{fl5}{fl6}\FCar{fl6}{fl7}\FCar{fl7}{fl8}
\draw[conn] (fl2.east) -| (4501,736) -| (fl8n);
\draw[conn] (fl3.east) -| (4481,686) -| (fl7n);
\draw[lin] (fl5.east) -- (4481,0 |- fl5.east);
\draw[conn] (fl8.west) -| (4290,0 |- flw.west) -- (flw.west);
\draw[conn] (flw.east) -| (4520,783) -| (fl9n);
%================ WAIT_FOR_INPUT
\Trm{wiT}{4605}{223}{4683}{262}{wait\_for\_input}
\Dcl{wi1}{4609}{286}{4679}{307}{char c;}
\Doc{wi2}{4540}{332}{4750}{364}{printf "Presione enter para continuar: "}
\Lec{wi3}{4595}{389}{4693}{412}{getchar();}
\Prc{wi4}{4605}{443}{4683}{468}{fflush(stdin);}
\Lec{wi5}{4606}{494}{4683}{526}{scanf \&c}
\FCar{wiT}{wi1}\FCar{wi1}{wi2}\FCar{wi2}{wi3}\FCar{wi3}{wi4}\FCar{wi4}{wi5}
\end{tikzpicture}
\end{document}
